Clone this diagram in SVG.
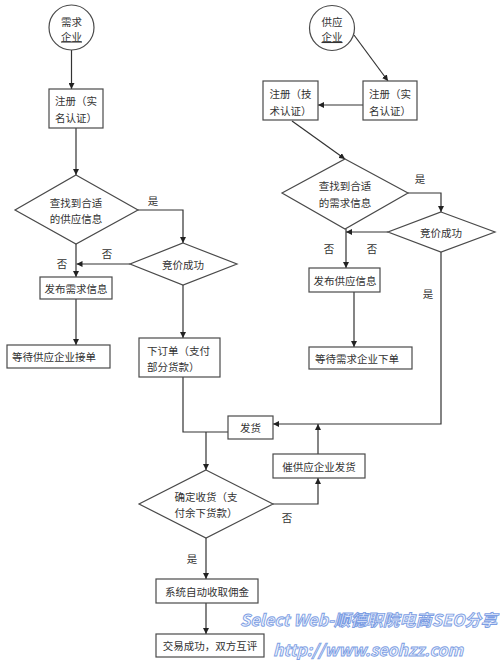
<svg xmlns="http://www.w3.org/2000/svg" width="500" height="662" viewBox="0 0 500 662">
<style>
  .shape { fill: #ffffff; stroke: #4a4a4a; stroke-width: 1.2; }
  .t { font-family: "Noto Sans CJK SC", "Liberation Sans", sans-serif; font-size: 10.5px; fill: #333333; dominant-baseline: central; text-anchor: middle; }
  .ts { text-anchor: start; }
  .lbl { font-family: "Noto Sans CJK SC", "Liberation Sans", sans-serif; font-size: 10.5px; fill: #333333; dominant-baseline: central; text-anchor: middle; }
  .conn { fill: none; stroke: #333333; stroke-width: 1.2; }
  .arr { marker-end: url(#ah); }
  .wm { font-family: "Noto Sans CJK SC", "DejaVu Sans", sans-serif; font-weight: bold; font-style: italic; fill: #f2f6ff; stroke: #7d9ee3; stroke-width: 0.9; }
</style>
<defs>
  <marker id="ah" viewBox="0 0 10 10" refX="10" refY="5" markerWidth="6" markerHeight="6" markerUnits="userSpaceOnUse" orient="auto">
    <path d="M0,0 L10,5 L0,10 z" fill="#222222"/>
  </marker>
</defs>
<rect x="0" y="0" width="500" height="662" fill="#ffffff"/>

<g id="connectors">
  <path class="conn arr" d="M71.5,50 L71.5,89"/>
  <path class="conn arr" d="M76,128 L76,175"/>
  <path class="conn arr" d="M138,210 L183,210 L183,243"/>
  <path class="conn arr" d="M130,264 L76.5,264"/>
  <path class="conn arr" d="M76,244 L76,277"/>
  <path class="conn arr" d="M76,299 L76,345"/>
  <path class="conn arr" d="M183,285 L183,338"/>
  <path class="conn" d="M183,377 L183,432 L228,432"/>
  <path class="conn arr" d="M206,432 L206,470"/>
  <path class="conn arr" d="M273,504 L318,504 L318,478"/>
  <path class="conn arr" d="M318,454 L318,424"/>
  <path class="conn arr" d="M441,252 L441,424 L273,424"/>
  <path class="conn arr" d="M206,538 L206,579"/>
  <path class="conn arr" d="M206,603 L206,634"/>
  <path class="conn arr" d="M354,35 L388,81"/>
  <path class="conn arr" d="M363,105 L318,105"/>
  <path class="conn arr" d="M292,121 L345,159"/>
  <path class="conn arr" d="M408,193 L441,193 L441,212"/>
  <path class="conn arr" d="M388,232 L346,232"/>
  <path class="conn arr" d="M346,229 L346,268"/>
  <path class="conn arr" d="M354,292 L354,347"/>
</g>

<g id="labels">
  <text class="lbl" x="153" y="200">是</text>
  <text class="lbl" x="107" y="253">否</text>
  <text class="lbl" x="62" y="263">否</text>
  <text class="lbl" x="420" y="178">是</text>
  <text class="lbl" x="329" y="248">否</text>
  <text class="lbl" x="372" y="248">否</text>
  <text class="lbl" x="428" y="293">是</text>
  <text class="lbl" x="287" y="517">否</text>
  <text class="lbl" x="192" y="558">是</text>
</g>

<g id="n-demand">
  <circle class="shape" cx="71.5" cy="27.5" r="22.5"/>
  <text class="t" x="71.5" y="21">需求</text>
  <text class="t" x="71.5" y="36" text-decoration="underline">企业</text>
</g>
<g id="n-reg1">
  <rect class="shape" x="49" y="89" width="54" height="39"/>
  <text class="t" x="76" y="100">注册（实</text>
  <text class="t" x="76" y="117">名认证）</text>
</g>
<g id="n-find1">
  <polygon class="shape" points="76,175 138,210 76,244 15,210"/>
  <text class="t" x="76" y="202">查找到合适</text>
  <text class="t" x="76" y="218">的供应信息</text>
</g>
<g id="n-bid1">
  <polygon class="shape" points="183,243 237,264 183,285 130,264"/>
  <text class="t" x="183" y="264">竞价成功</text>
</g>
<g id="n-pubdemand">
  <rect class="shape" x="40" y="277" width="72" height="22"/>
  <text class="t" x="76" y="288">发布需求信息</text>
</g>
<g id="n-waitsupply">
  <rect class="shape" x="7" y="345" width="103" height="23"/>
  <text class="t ts" x="12" y="356.5">等待供应企业接单</text>
</g>
<g id="n-order">
  <rect class="shape" x="139" y="338" width="81" height="39"/>
  <text class="t ts" x="147" y="350">下订单（支付</text>
  <text class="t ts" x="147" y="366">部分货款）</text>
</g>
<g id="n-ship">
  <rect class="shape" x="228" y="416" width="45" height="23"/>
  <text class="t" x="250.5" y="427.5">发货</text>
</g>
<g id="n-urge">
  <rect class="shape" x="273" y="454" width="92" height="24"/>
  <text class="t" x="319" y="466">催供应企业发货</text>
</g>
<g id="n-confirm">
  <polygon class="shape" points="206,470 273,504 206,538 139,504"/>
  <text class="t" x="206" y="496">确定收货（支</text>
  <text class="t" x="206" y="512">付余下货款）</text>
</g>
<g id="n-commission">
  <rect class="shape" x="156" y="579" width="102" height="24"/>
  <text class="t" x="207" y="591">系统自动收取佣金</text>
</g>
<g id="n-done">
  <rect class="shape" x="156" y="634" width="108" height="23"/>
  <text class="t" x="210" y="645.5">交易成功，双方互评</text>
</g>
<g id="n-supply">
  <circle class="shape" cx="332" cy="28" r="22.5"/>
  <text class="t" x="332" y="21.5">供应</text>
  <text class="t" x="332" y="36.5" text-decoration="underline">企业</text>
</g>
<g id="n-reg2">
  <rect class="shape" x="363" y="81" width="54" height="39"/>
  <text class="t" x="390" y="93">注册（实</text>
  <text class="t" x="390" y="110">名认证）</text>
</g>
<g id="n-regtech">
  <rect class="shape" x="263" y="81" width="55" height="39"/>
  <text class="t" x="290.5" y="93">注册（技</text>
  <text class="t" x="290.5" y="110">术认证）</text>
</g>
<g id="n-find2">
  <polygon class="shape" points="345,159 408,193 345,229 282,193"/>
  <text class="t" x="345" y="185">查找到合适</text>
  <text class="t" x="345" y="202">的需求信息</text>
</g>
<g id="n-bid2">
  <polygon class="shape" points="441,212 495,232 441,252 388,232"/>
  <text class="t" x="441" y="232">竞价成功</text>
</g>
<g id="n-pubsupply">
  <rect class="shape" x="309" y="268" width="71" height="24"/>
  <text class="t" x="345" y="280">发布供应信息</text>
</g>
<g id="n-waitdemand">
  <rect class="shape" x="309" y="347" width="103" height="22"/>
  <text class="t ts" x="315" y="358">等待需求企业下单</text>
</g>

<g id="watermark">
  <text class="wm" x="240" y="626" font-size="16" textLength="257" lengthAdjust="spacingAndGlyphs">Select Web-顺德职院电商SEO分享</text>
  <text class="wm" x="273" y="656" font-size="16" textLength="190" lengthAdjust="spacingAndGlyphs">http://www.seohzz.com</text>
</g>
</svg>
